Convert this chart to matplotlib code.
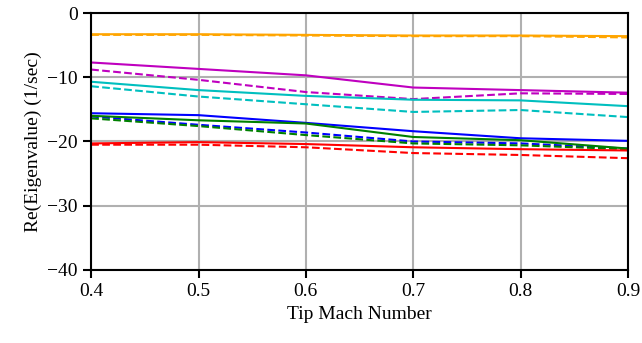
import numpy as np
import matplotlib.pyplot as plt

plt.rcParams['font.family'] = ['Liberation Serif', 'DejaVu Serif']
plt.rcParams['mathtext.fontset'] = 'stix'

mach = [0.4, 0.5, 0.6, 0.7, 0.8, 0.9]

# real parts of eigenvalues, solid = model A, dashed = model B
orange_a = [-3.3, -3.3, -3.4, -3.5, -3.5, -3.6]
orange_b = [-3.4, -3.4, -3.5, -3.6, -3.6, -3.8]
magenta_a = [-7.7, -8.7, -9.7, -11.6, -12.0, -12.4]
magenta_b = [-8.8, -10.4, -12.3, -13.4, -12.5, -12.6]
cyan_a = [-10.7, -12.0, -12.9, -13.5, -13.6, -14.5]
cyan_b = [-11.4, -13.0, -14.2, -15.4, -15.1, -16.2]
blue_a = [-15.6, -15.9, -17.1, -18.4, -19.5, -19.9]
blue_b = [-16.1, -17.4, -18.6, -20.0, -20.3, -21.1]
green_a = [-16.0, -16.7, -17.2, -19.3, -19.8, -21.1]
green_b = [-16.4, -17.6, -19.0, -20.3, -20.6, -21.2]
red_a = [-20.3, -20.1, -20.4, -20.9, -21.2, -21.4]
red_b = [-20.5, -20.5, -20.9, -21.8, -22.1, -22.6]

series = [
    ('orange', orange_a, orange_b),
    ('m', magenta_a, magenta_b),
    ('c', cyan_a, cyan_b),
    ('b', blue_a, blue_b),
    ('g', green_a, green_b),
    ('r', red_a, red_b),
]

fig = plt.figure(figsize=(6.42, 3.43), dpi=100)
ax = fig.add_axes([0.142, 0.213, 0.836, 0.749])

for color, sa, sb in series:
    ax.plot(mach, sa, color=color, lw=1.5, ls='-')
    ax.plot(mach, sb, color=color, lw=1.5, ls='--')

ax.set_xlim(0.4, 0.9)
ax.set_ylim(-40, 0)
ax.set_xticks(mach)
ax.set_yticks([-40, -30, -20, -10, 0])
ax.grid(True, color='#b0b0b0', lw=1.5)
ax.set_axisbelow(True)
for sp in ax.spines.values():
    sp.set_linewidth(1.5)
ax.tick_params(direction='out', length=6, width=1.5, labelsize=14)
ax.set_xlabel('Tip Mach Number', fontsize=14)
ax.set_ylabel('Re(Eigenvalue) (1/sec)', fontsize=14)

fig.savefig('out.png', dpi=100)
